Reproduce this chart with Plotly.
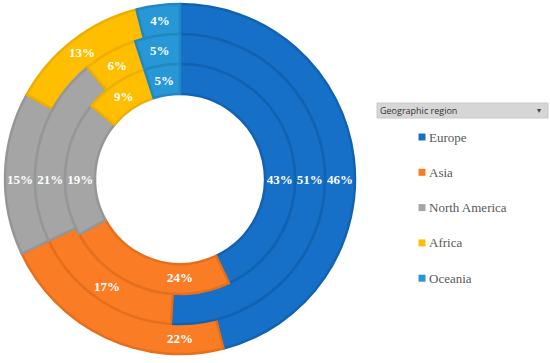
import plotly.graph_objects as go

regions = ["Europe", "Asia", "North America", "Africa", "Oceania"]
outer_vals = [46, 22, 15, 13, 4]
middle_vals = [51, 17, 21, 6, 5]
inner_vals = [43, 24, 19, 9, 5]
legend_title = "Geographic region"

colors = ["#1670C8", "#FA7D25", "#A5A5A5", "#FFBE00", "#2897D5"]
borders = ["#1262B2", "#E56F1C", "#969696", "#EDAF00", "#2088C2"]

W, H = 550, 363
cx, cy = 180, 179
radii = [175, 145, 115, 85]

fig = go.Figure()
for i, vals in enumerate([outer_vals, middle_vals, inner_vals]):
    R, r = radii[i], radii[i + 1]
    fig.add_trace(go.Pie(
        labels=regions,
        values=vals,
        sort=False,
        direction="clockwise",
        rotation=0,
        hole=r / R,
        domain=dict(x=[(cx - R) / W, (cx + R) / W],
                    y=[(H - cy - R) / H, (H - cy + R) / H]),
        marker=dict(colors=colors, line=dict(color=borders, width=2.5)),
        texttemplate="%{value}%",
        textposition="inside",
        insidetextorientation="horizontal",
        textfont=dict(family="Liberation Serif", size=13, color="white", weight="bold"),
        showlegend=False,
        hoverinfo="label+value",
    ))

shapes = []
annotations = []
# legend header
shapes.append(dict(type="rect", xref="paper", yref="paper",
                   x0=377 / W, x1=548 / W, y0=(H - 118) / H, y1=(H - 103) / H,
                   fillcolor="#D6D6D6", line=dict(color="#C8C8C8", width=1)))
annotations.append(dict(xref="paper", yref="paper", x=378 / W, y=(H - 110.5) / H,
                        text=legend_title, showarrow=False, xanchor="left", yanchor="middle",
                        font=dict(family="Open Sans", size=9, color="#333333")))
annotations.append(dict(xref="paper", yref="paper", x=539 / W, y=(H - 110.5) / H,
                        text="▾", showarrow=False, xanchor="center", yanchor="middle",
                        font=dict(family="DejaVu Sans", size=8, color="#444444")))

for i, name in enumerate(regions):
    yc = 137 + i * 35.3
    shapes.append(dict(type="rect", xref="paper", yref="paper",
                       x0=418.5 / W, x1=425.5 / W, y0=(H - yc - 3.5) / H, y1=(H - yc + 3.5) / H,
                       fillcolor=colors[i], line=dict(width=0)))
    annotations.append(dict(xref="paper", yref="paper", x=427 / W, y=(H - yc) / H,
                            text=name, showarrow=False, xanchor="left", yanchor="middle",
                            font=dict(family="Liberation Serif", size=13, color="#595959")))

fig.update_layout(
    width=W, height=H,
    margin=dict(l=0, r=0, t=0, b=0),
    paper_bgcolor="white",
    plot_bgcolor="white",
    shapes=shapes,
    annotations=annotations,
)

fig.write_html("out.html", config={"displayModeBar": False},
               post_script="document.body.style.margin='0';")
